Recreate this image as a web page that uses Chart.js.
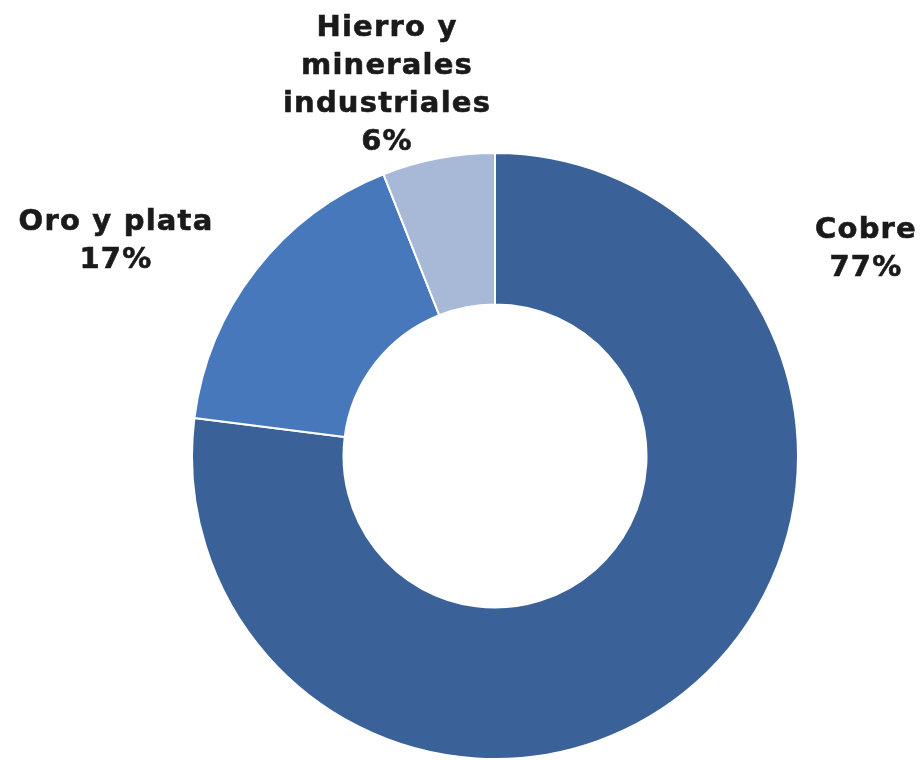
<!DOCTYPE html>
<html>
<head>
<meta charset="utf-8">
<script src="https://cdn.jsdelivr.net/npm/chart.js@4/dist/chart.umd.min.js"></script>
<style>
html,body{margin:0;padding:0;background:#fff;}
#wrap{width:924px;height:760px;}
</style>
</head>
<body>
<div id="wrap"><canvas id="c" width="924" height="760"></canvas></div>
<script>
const categories = ["Cobre", "Oro y plata", "Hierro y minerales industriales"];
const labelLines = [["Cobre", "77%"], ["Oro y plata", "17%"], ["Hierro y", "minerales", "industriales", "6%"]];
const shares = [77, 17, 6];
const colors = ["#3A6299", "#4678BB", "#A8B9D8"];

// label anchor offsets from the doughnut centre (annotation layout)
const labelOffsets = [[370, -218], [-380, -226], [-109, -420]];

const labelPlugin = {
  id: 'sliceLabels',
  afterDraw(chart) {
    const ctx = chart.ctx;
    const arc = chart.getDatasetMeta(0).data[0];
    const cx = arc.x, cy = arc.y;
    ctx.save();
    ctx.font = 'bold 29px "DejaVu Sans"';
    if ('letterSpacing' in ctx) ctx.letterSpacing = '1.2px';
    ctx.fillStyle = '#1a1a1a';
    ctx.strokeStyle = '#1a1a1a';
    ctx.lineWidth = 0.6;
    ctx.textAlign = 'center';
    ctx.textBaseline = 'alphabetic';
    labelLines.forEach((lines, i) => {
      const [dx, dy] = labelOffsets[i];
      lines.forEach((t, j) => {
        ctx.fillText(t, cx + dx + 1, cy + dy + j * 38);
        ctx.strokeText(t, cx + dx + 1, cy + dy + j * 38);
      });
    });
    ctx.restore();
  }
};

new Chart(document.getElementById('c'), {
  type: 'doughnut',
  data: {
    labels: categories,
    datasets: [{
      data: shares,
      backgroundColor: colors,
      borderColor: '#ffffff',
      borderWidth: 2
    }]
  },
  options: {
    responsive: false,
    animation: false,
    cutout: '50%',
    layout: { padding: { left: 66, right: 0, top: 152, bottom: 0 } },
    plugins: {
      legend: { display: false },
      tooltip: { enabled: false }
    }
  },
  plugins: [labelPlugin]
});
</script>
</body>
</html>
